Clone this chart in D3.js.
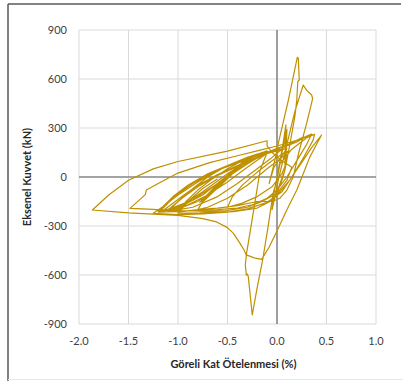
<!DOCTYPE html>
<html><head><meta charset="utf-8">
<script src="https://cdn.jsdelivr.net/npm/d3@7"></script>
<style>
html,body{margin:0;padding:0;background:#fff;}
text{font-family:Lato,"Open Sans",sans-serif;}
</style></head>
<body><svg id="c" width="403" height="381"></svg>
<script>
const xTicks=[-2.0,-1.5,-1.0,-0.5,0.0,0.5,1.0];
const yTicks=[-900,-600,-300,0,300,600,900];
const xTitle="Göreli Kat Ötelenmesi (%)";
const yTitle="Eksenel Kuvvet (kN)";

// [drift %, force kN], in loading order
const cycle1=[[0,0],[0.03,100],[0.06,200],[0.09,320],[0.085,240],[0.08,43],[0.04,-40],[-0.02,-120],[-0.05,-200],[-0.03,-100],[0,0],[0.04,120],[0.1,290],[0.095,200],[0.09,80],[0.05,20]];
const cycle2=[[-0.05,-60],[-0.2,-120],[-0.35,-160],[-0.5,-185],[-0.45,-120],[-0.35,-50],[-0.2,30],[-0.05,100],[0.05,140],[0.12,160],[0.05,120]];
const cycle3=[[-0.1,50],[-0.3,-50],[-0.5,-130],[-0.7,-185],[-0.8,-200],[-0.72,-120],[-0.6,-40],[-0.45,30],[-0.3,85],[-0.15,135],[0,160],[0.1,175],[0.05,130]];
const cycle4=[[-0.03,60],[-0.08,-40],[-0.03,80],[0.013,206],[0.115,471],[0.205,733],[0.215,728],[0.225,594],[0.21,585],[0.2,471],[0.18,369],[0.13,200],[0.08,43],[0.03,-40],[-0.02,-120],[0.02,0],[0.08,150],[0.12,250],[0.18,400],[0.265,563],[0.3,530],[0.35,502],[0.36,480],[0.3,330],[0.22,150],[0.165,2],[0.1,-80],[0.03,-130],[-0.05,-150]];
const cycle5=[[-0.2,-150],[-0.4,-175],[-0.6,-190],[-0.8,-200],[-1.0,-215],[-0.92,-150],[-0.8,-80],[-0.65,-10],[-0.5,50],[-0.35,100],[-0.2,140],[-0.05,160],[0.05,170],[-0.05,120],[-0.2,50],[-0.4,-40],[-0.6,-120],[-0.85,-185],[-1.1,-210],[-1.0,-150],[-0.85,-70],[-0.7,0],[-0.5,70],[-0.3,120],[-0.15,150],[-0.1,160]];
const cycle6=[[-0.34,94],[-0.45,20],[-0.6,-70],[-0.8,-150],[-1.0,-195],[-1.2,-210],[-1.05,-120],[-0.9,-50],[-0.7,20],[-0.5,70],[-0.33,100],[-0.5,10],[-0.75,-110],[-1.0,-190],[-1.18,-208],[-1.02,-110],[-0.85,-40],[-0.65,30],[-0.45,75],[-0.3,105]];
const cycle7=[[-0.37,73],[-0.55,-40],[-0.75,-150],[-0.6,-50],[-0.37,70],[-0.57,-50],[-0.74,-148],[-0.58,-40],[-0.38,75],[-0.56,-45],[-0.76,-152],[-0.6,-45],[-0.36,72],[-0.58,-55],[-0.75,-150],[-0.57,-35],[-0.4,65],[-0.6,-65],[-0.78,-155],[-0.55,-25],[-0.38,70],[-0.62,-75],[-0.77,-150],[-0.58,-30],[-0.35,80]];
const cycle8=[[-0.5,20],[-0.75,-90],[-0.95,-170],[-1.15,-205],[-0.95,-115],[-0.8,-50],[-0.6,15],[-0.4,70],[-0.25,110],[-0.15,135],[-0.3,80],[-0.55,-20],[-0.85,-140],[-1.1,-200],[-0.95,-125],[-0.8,-60],[-0.6,10],[-0.4,65],[-0.2,115],[-0.1,145]];
const cycle9=[[-0.3,60],[-0.5,-30],[-0.7,-110],[-0.9,-170],[-1.2,-215],[-1.0,-210],[-0.8,-205],[-0.6,-200],[-0.4,-190],[-0.25,-170],[-0.1,-130],[0,-80],[0.1,0],[0.2,100],[0.3,200],[0.35,263],[0.3,250],[0.2,215],[0.1,190],[0,170],[-0.2,130],[-0.4,90],[-0.6,40],[-0.8,-30],[-1.0,-110],[-1.15,-180],[-1.25,-222]];
const cycle10=[[-1.0,-230],[-0.75,-226],[-0.5,-215],[-0.3,-195],[-0.1,-155],[0.05,-90],[0.15,0],[0.25,90],[0.35,180],[0.45,257],[0.4,200],[0.33,120],[0.28,43],[0.2,-80],[0.1,-200],[0.0,-330],[-0.08,-430],[-0.155,-504],[-0.23,-495],[-0.31,-477],[-0.24,-220],[-0.17,43],[-0.1,150],[0,175],[0.1,195],[0.25,240],[0.36,258]];
const cycle11=[[0.2,225],[0,190],[-0.17,165],[-0.4,130],[-0.68,88],[-1.01,22],[-1.2,-40],[-1.32,-80],[-1.33,-108],[-1.485,-192],[-1.3,-197],[-1.215,-200],[-1.0,-205],[-0.7,-210],[-0.5,-205],[-0.3,-185],[-0.15,-150],[0.0,-100],[0.1,-20],[0.15,60],[0.05,100],[-0.05,150],[-0.1,190],[-0.1,222]];
const cycle12=[[-0.14,216],[-0.5,158],[-1.0,95],[-1.25,50],[-1.5,-20],[-1.7,-110],[-1.865,-202],[-1.5,-220],[-1.0,-235],[-0.75,-255],[-0.61,-275],[-0.5,-310],[-0.44,-345],[-0.38,-400],[-0.33,-450],[-0.31,-480],[-0.32,-539],[-0.31,-600],[-0.30,-594],[-0.29,-610],[-0.25,-845],[-0.205,-692],[-0.145,-508],[-0.09,-304],[-0.04,-100],[0,-18],[0.03,80]];
const cycle13=[[0.15,170],[0.3,240],[0.38,262],[0.365,226],[0.25,100],[0.13,-18],[-0.04,-140],[-0.2,-190],[-0.44,-212],[-0.78,-220],[-1.0,-222],[-0.9,-150],[-0.75,-70],[-0.6,-10]];
const cycles=[cycle1,cycle2,cycle3,cycle4,cycle5,cycle6,cycle7,cycle8,cycle9,cycle10,cycle11,cycle12,cycle13];

const svg=d3.select("#c");
const L=79,R=376,T=30,B=324;
const x=d3.scaleLinear().domain([-2,1]).range([L,R]);
const y=d3.scaleLinear().domain([-900,900]).range([B,T]);

// outer frame
svg.append("line").attr("x1",8).attr("x2",401).attr("y1",4).attr("y2",4).attr("stroke","#595959").attr("stroke-width",1.5);
svg.append("line").attr("x1",8).attr("x2",8).attr("y1",4).attr("y2",381).attr("stroke","#595959").attr("stroke-width",1.5);
svg.append("line").attr("x1",8).attr("x2",403).attr("y1",379.5).attr("y2",379.5).attr("stroke","#e8e8e8").attr("stroke-width",1);

// grid
const g=svg.append("g");
g.selectAll(".vx").data(xTicks.filter(d=>d!==0)).join("line")
 .attr("x1",d=>x(d)).attr("x2",d=>x(d)).attr("y1",T).attr("y2",B).attr("stroke","#d9d9d9").attr("stroke-width",1);
g.selectAll(".hy").data(yTicks.filter(d=>d!==0)).join("line")
 .attr("class","hy").attr("y1",d=>y(d)).attr("y2",d=>y(d)).attr("x1",L).attr("x2",R).attr("stroke","#d9d9d9").attr("stroke-width",1);

// zero axes
svg.append("line").attr("x1",x(0)).attr("x2",x(0)).attr("y1",T).attr("y2",B).attr("stroke","#868686").attr("stroke-width",1.6);
svg.append("line").attr("x1",L).attr("x2",R).attr("y1",y(0)).attr("y2",y(0)).attr("stroke","#868686").attr("stroke-width",1.6);

// curve
const pts=[].concat(...cycles);
const line=d3.line().x(d=>x(d[0])).y(d=>y(d[1]));
svg.append("path").datum(pts).attr("d",line).attr("fill","none").attr("stroke","#BF9000").attr("stroke-width",1.2).attr("stroke-linejoin","round");

// tick labels
svg.selectAll(".yt").data(yTicks).join("text").attr("x",67).attr("y",d=>y(d)+4)
 .attr("text-anchor","end").attr("font-size",11).attr("fill","#404040").text(d=>d);
svg.selectAll(".xt").data(xTicks).join("text").attr("x",d=>x(d)).attr("y",345)
 .attr("text-anchor","middle").attr("font-size",11).attr("fill","#404040").text(d=>d.toFixed(1));

// titles
svg.append("text").attr("x",(L+R)/2+6).attr("y",368).attr("text-anchor","middle").attr("font-size",11).attr("font-weight","bold").attr("fill","#262626").text(xTitle);
svg.append("text").attr("transform",`translate(31,${(T+B)/2}) rotate(-90)`).attr("text-anchor","middle").attr("font-size",11).attr("font-weight","bold").attr("fill","#262626").text(yTitle);
</script></body></html>
